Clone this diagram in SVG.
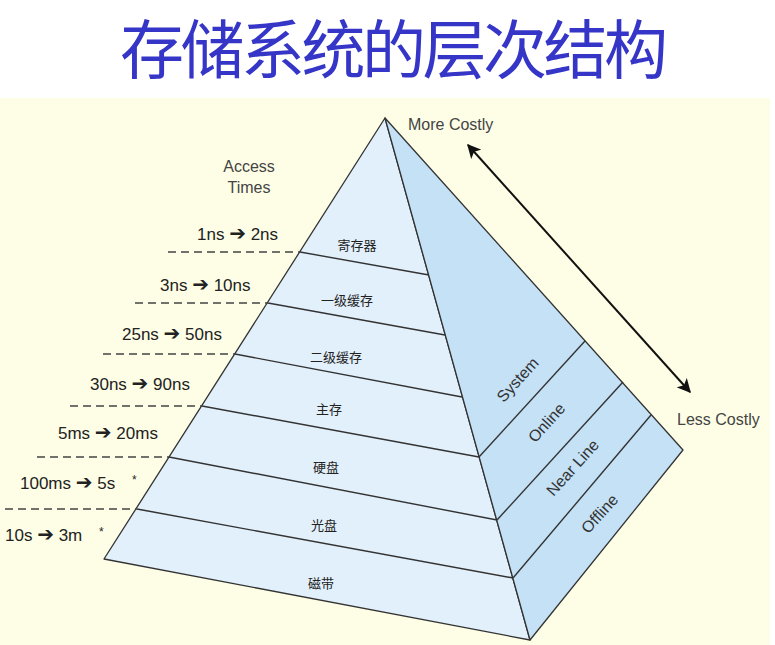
<svg xmlns="http://www.w3.org/2000/svg" width="775" height="645" viewBox="0 0 775 645">
<style>
.bg{fill:#fefee6}
.front{fill:#e2f0fb;stroke:#333;stroke-width:1.3;stroke-linejoin:round}
.side{fill:#c4e1f6;stroke:#333;stroke-width:1.3;stroke-linejoin:round}
.layer{stroke:#333;stroke-width:1.4;fill:none}
.dash{stroke:#444;stroke-width:1.6;stroke-dasharray:8 5;fill:none}
.t{font-family:"Liberation Sans",Arial,sans-serif;font-size:17px;fill:#222}
.arr{font-family:"DejaVu Sans",sans-serif;font-size:20px;font-weight:bold}
.g{font-family:"Liberation Sans",Arial,sans-serif;font-size:16px;fill:#444}
.cn{font-family:"Noto Sans CJK SC",sans-serif;font-size:13px;fill:#222;text-anchor:middle}
.rot{font-family:"Liberation Sans",Arial,sans-serif;font-size:16px;fill:#333;text-anchor:middle}
.title{font-family:"Noto Sans CJK SC",sans-serif;font-size:64px;fill:#3535c8}
.ca{stroke:#111;stroke-width:2;fill:none}
</style>
<defs>
<marker id="ah2" viewBox="0 0 10 10" refX="9" refY="5" markerWidth="14" markerHeight="14" orient="auto-start-reverse" markerUnits="userSpaceOnUse">
<path d="M0,0 L10,5 L0,10 L2.5,5 Z" fill="#111"/>
</marker>
</defs>
<rect x="0" y="0" width="775" height="645" fill="#ffffff"/>
<rect class="bg" x="0" y="98" width="770" height="547"/>
<g id="title"><text class="title" x="120" y="73" textLength="548" lengthAdjust="spacing">存储系统的层次结构</text></g>

<g id="pyramid">
<polygon id="front-face" class="front" points="385,118 104,559 530,640"/>
<polygon id="side-face" class="side" points="385,118 530,640 683,450"/>
</g>

<g id="connectors">
<line class="layer" x1="300" y1="252" x2="429" y2="275"/>
<line class="layer" x1="268" y1="303" x2="445" y2="335"/>
<line class="layer" x1="235" y1="354" x2="462" y2="397"/>
<line class="layer" x1="202" y1="406" x2="479" y2="457"/>
<line class="layer" x1="169" y1="457" x2="497" y2="520"/>
<line class="layer" x1="137" y1="509" x2="513" y2="578"/>
<line class="layer" x1="479" y1="457" x2="585" y2="341"/>
<line class="layer" x1="497" y1="520" x2="623" y2="382"/>
<line class="layer" x1="513" y1="578" x2="651" y2="415"/>
<line class="dash" x1="168" y1="252" x2="300" y2="252"/>
<line class="dash" x1="135" y1="303" x2="268" y2="303"/>
<line class="dash" x1="103" y1="354" x2="235" y2="354"/>
<line class="dash" x1="70" y1="406" x2="202" y2="406"/>
<line class="dash" x1="37" y1="457" x2="169" y2="457"/>
<line class="dash" x1="5" y1="509" x2="137" y2="509"/>
<line class="ca" x1="468" y1="145" x2="690" y2="392" marker-start="url(#ah2)" marker-end="url(#ah2)"/>
</g>

<g id="layer-labels">
<g id="n-reg"><text class="cn" x="357" y="250">寄存器</text></g>
<g id="n-l1"><text class="cn" x="347" y="305">一级缓存</text></g>
<g id="n-l2"><text class="cn" x="336" y="362">二级缓存</text></g>
<g id="n-mem"><text class="cn" x="329" y="414">主存</text></g>
<g id="n-disk"><text class="cn" x="326" y="472">硬盘</text></g>
<g id="n-cd"><text class="cn" x="324" y="530">光盘</text></g>
<g id="n-tape"><text class="cn" x="321" y="588">磁带</text></g>
</g>

<g id="side-labels">
<g id="n-system"><text class="rot" transform="rotate(-48 518 380)" x="518" y="385">System</text></g>
<g id="n-online"><text class="rot" transform="rotate(-48 547 423)" x="547" y="428">Online</text></g>
<g id="n-nearline"><text class="rot" transform="rotate(-48 573 468)" x="573" y="473">Near Line</text></g>
<g id="n-offline"><text class="rot" transform="rotate(-48 600 514)" x="600" y="519">Offline</text></g>
</g>

<g id="access-times">
<text class="g" x="249" y="172" text-anchor="middle">Access</text>
<text class="g" x="249" y="193" text-anchor="middle">Times</text>
<text class="t" x="197" y="240">1ns <tspan class="arr">➔</tspan> 2ns</text>
<text class="t" x="160" y="291">3ns <tspan class="arr">➔</tspan> 10ns</text>
<text class="t" x="122" y="340">25ns <tspan class="arr">➔</tspan> 50ns</text>
<text class="t" x="90" y="390">30ns <tspan class="arr">➔</tspan> 90ns</text>
<text class="t" x="58" y="439">5ms <tspan class="arr">➔</tspan> 20ms</text>
<text class="t" x="20" y="489">100ms <tspan class="arr">➔</tspan> 5s<tspan x="132" y="484" font-size="12">*</tspan></text>
<text class="t" x="5" y="541">10s <tspan class="arr">➔</tspan> 3m<tspan x="99" y="536" font-size="12">*</tspan></text>
</g>

<g id="cost">
<text class="g" x="408" y="130" fill="#333">More Costly</text>
<text class="g" x="677" y="425" fill="#333">Less Costly</text>
</g>
</svg>
